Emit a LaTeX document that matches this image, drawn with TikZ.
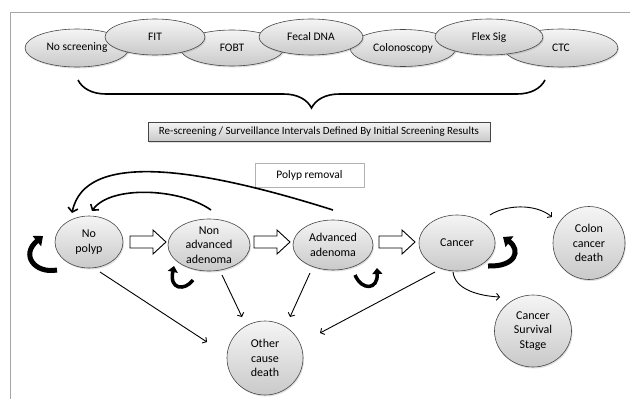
\documentclass[tikz,border=0pt]{standalone}
\usepackage{fontspec}
\setmainfont{Carlito}
\usetikzlibrary{shapes.geometric,decorations.pathreplacing,arrows.meta,shadows,calc}
\begin{document}
\begin{tikzpicture}[x=1pt,y=-1pt,
  gshade/.style={top color=gray!8, bottom color=gray!42, draw=gray!55!black, line width=0.6pt,
     drop shadow={shadow xshift=1pt, shadow yshift=-1.5pt, opacity=0.25}},
  topell/.style={ellipse, gshade, inner sep=0pt, font=\fontsize{11.5}{13}\selectfont},
  midell/.style={ellipse, gshade, inner sep=0pt, align=center, font=\fontsize{12}{14.5}\selectfont},
  barbox/.style={rectangle, gshade, inner sep=0pt, font=\fontsize{11}{13}\selectfont},
  prbox/.style={rectangle, draw=gray!60, fill=white, inner sep=0pt, font=\fontsize{11.5}{13}\selectfont},
  blockarrow/.style={draw=black, fill=white, line width=0.9pt, line join=miter},
  thinarrow/.style={line width=0.9pt, -{Straight Barb[length=3pt,width=7pt]}},
  polyparrow/.style={line width=1.6pt, -{Straight Barb[length=4pt,width=10pt]}},
  bigloop/.style={line width=5pt, -{Triangle[length=8pt,width=13pt]}},
  smallloop/.style={line width=3.5pt, -{Triangle[length=6pt,width=10pt]}}
]
\useasboundingbox (0,0) rectangle (630,399);
% frame
\draw[gray!70, line width=1pt] (630,12) -| (10,399);

% screening options
\node[topell, minimum width=104pt, minimum height=38pt] (ns) at (77,48) {No screening};
\node[topell, minimum width=104pt, minimum height=36pt] (fobt) at (232,48) {FOBT};
\node[topell, minimum width=106pt, minimum height=37pt] (colo) at (403,48) {Colonoscopy};
\node[topell, minimum width=114pt, minimum height=38pt] (ctc) at (561,48) {CTC};
\node[topell, minimum width=100pt, minimum height=36pt] (fit) at (155,37) {FIT};
\node[topell, minimum width=104pt, minimum height=36pt] (fdna) at (311,37) {Fecal DNA};
\node[topell, minimum width=108pt, minimum height=36pt] (flex) at (489,37) {Flex Sig};

% brace
\draw[decorate, decoration={brace, amplitude=28pt, aspect=0.5, mirror}, line width=1.6pt] (78,80) -- (545,80);

% bar
\node[barbox, minimum width=342pt, minimum height=19pt] (bar) at (319,131.5)
  {Re-screening / Surveillance Intervals Defined By Initial Screening Results};

% polyp removal
\node[prbox, minimum width=109pt, minimum height=24pt] (pr) at (309.5,175) {Polyp removal};

% states
\node[midell, minimum width=68pt, minimum height=52pt] (np) at (89,242) {No\\polyp};
\node[midell, minimum width=82pt, minimum height=52pt] (na) at (209,245) {Non\\advanced\\adenoma};
\node[midell, minimum width=80pt, minimum height=50pt] (aa) at (333,245) {Advanced\\adenoma};
\node[midell, minimum width=76pt, minimum height=56pt] (ca) at (457,243) {Cancer};
\node[midell, minimum width=72pt, minimum height=73pt] (cd) at (589,243) {Colon\\cancer\\death};
\node[midell, minimum width=76pt, minimum height=74pt] (oc) at (265,358) {Other\\cause\\death};
\node[midell, minimum width=77pt, minimum height=72pt] (cs) at (533,331) {Cancer\\Survival\\Stage};

% block arrows
\coordinate (b1) at (130,242);
\coordinate (b2) at (254,242);
\coordinate (b3) at (379,242);
\foreach \b in {b1,b2,b3}
  \draw[blockarrow] (\b) ++(0,-6) -- ++(23,0) -- ++(0,-6) -- ++(13,12) -- ++(-13,12) -- ++(0,-6) -- ++(-23,0) -- cycle;

% polyp removal arrows
\draw[polyparrow] ($(aa)+(0,-35)$) .. controls (200,168) and (85,150) .. ($(np)+(-17,-29)$);
\draw[polyparrow] ($(na)+(2,-35)$) .. controls (180,188) and (110,185) .. ($(np)+(3,-31)$);

% transitions
\draw[thinarrow] ($(np)+(11,30)$) -- ($(oc)+(-58,-16)$);
\draw[thinarrow] ($(na)+(13,30)$) -- ($(oc)+(-23,-41)$);
\draw[thinarrow] ($(aa)+(-23,28)$) -- ($(oc)+(25,-41)$);
\draw[thinarrow] ($(ca)+(-22,29)$) -- ($(oc)+(55,-25)$);
\draw[thinarrow] ($(ca)+(33,-28)$) .. controls (505,205) and (535,203) .. ($(cd)+(-37,-26)$);
\draw[thinarrow] ($(ca)+(-4,29)$) .. controls (455,290) and (480,296) .. ($(cs)+(-33,-34)$);

% self loops
\draw[bigloop] ($(np)+(-32,28)$) .. controls (35,274) and (20,255) .. ($(np)+(-46,-6)$);
\draw[smallloop] ($(na)+(-16,35)$) .. controls (185,291) and (169,290) .. ($(na)+(-35,21)$);
\draw[smallloop] ($(aa)+(22,30)$) .. controls (362,291) and (378,290) .. ($(aa)+(44,23)$);
\draw[bigloop] ($(ca)+(31,23)$) .. controls (516,267) and (521,250) .. ($(ca)+(46,-6)$);
\end{tikzpicture}
\end{document}
